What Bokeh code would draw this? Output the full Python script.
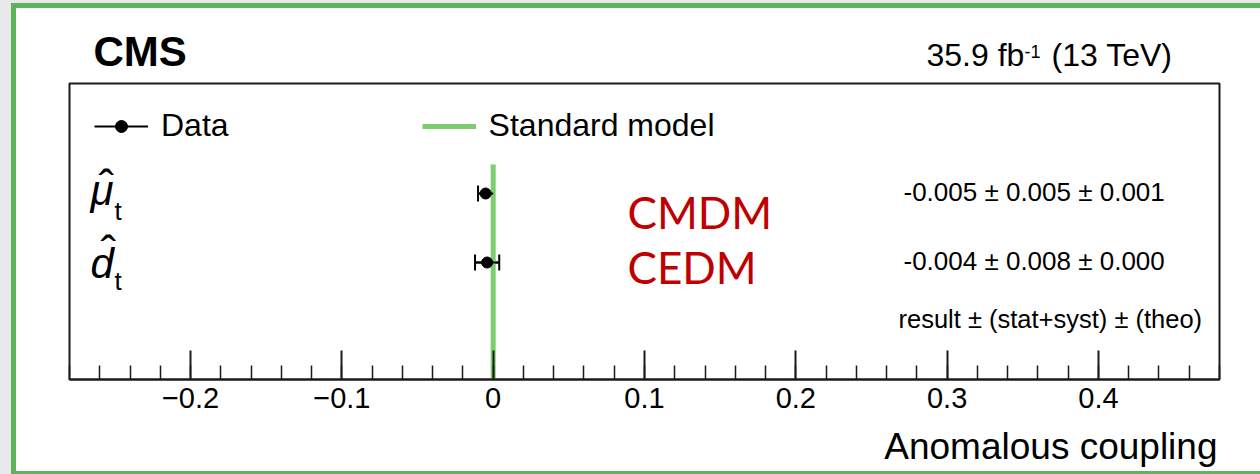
import numpy as np
from bokeh.plotting import figure
from bokeh.layouts import row, column
from bokeh.models import (Range1d, FixedTicker, Whisker, TeeHead, Label, Legend,
                          LegendItem, ColumnDataSource, Div)
from bokeh.core.properties import value
from bokeh.embed import file_html
from bokeh.resources import INLINE

# ---------------- data ----------------
couplings = ["μ", "d"]
coupling_names = ["CMDM", "CEDM"]
central = [-0.005, -0.004]
err_stat_syst = [0.005, 0.008]
err_theo = [0.001, 0.000]
sm_value = 0.0
x_major_ticks = [-0.2, -0.1, 0.0, 0.1, 0.2, 0.3, 0.4]
x_tick_labels = ["−0.2", "−0.1", "0", "0.1", "0.2", "0.3", "0.4"]
x_minor_step = 0.02
x_limits = (-0.28, 0.48)

# ---------------- layout constants ----------------
FONT = "Liberation Sans"
GRAY, GREEN = "#e9e9e9", "#5db55a"
CW = 1244                            # content width (page x 16..1260)
FL, FR, FT, FB = 69, 1219, 83, 379   # main frame edges in page pixels
MAIN_TOP, MAIN_H = 81, 346
HEAD_TOP, HEAD_H = 8, 73
FOOT_TOP, FOOT_H = 427, 44
K = 0.36                             # baseline correction (fraction of font size)
BL, BR = FL - 16, 16 + CW - FR       # side borders shared by all stacked figures


def fix(py, size):
    return py - K * size


def sx(px):
    return px - FL


def sy(py):
    return FB - py


def strip(w, h, color):
    return Div(text="", width=w, height=h, margin=0,
               styles={"background-color": color, "overflow": "hidden"})


def textfig(h):
    f = figure(width=CW, height=h, toolbar_location=None, output_backend="svg",
               x_range=Range1d(0, 1), y_range=Range1d(0, 1),
               min_border_left=BL, min_border_right=BR, min_border_top=0, min_border_bottom=0,
               x_axis_location=None, y_axis_location=None)
    f.outline_line_color = None
    f.background_fill_color = "white"
    f.border_fill_color = "white"
    f.grid.visible = False
    return f


def label(fig, x, y, text, size, **kw):
    args = dict(text_font=FONT, text_font_size=f"{size}px", text_baseline="alphabetic",
                text_color="black")
    args.update(kw)
    fig.add_layout(Label(x=x, y=y, x_units="screen", y_units="screen", text=text, **args))


# ---------------- main plot ----------------
row_py = [193, 262]
row_y = [sy(v) for v in row_py]
sym_dy = [12 - K * 42, 16 - K * 42]
sub_dy = [27 - K * 26, 28 - K * 26]
hat_dy = [9 - K * 46, 6 - K * 46]
hat_dx = [sx(106), sx(108)]

p = figure(width=CW, height=MAIN_H, x_range=Range1d(*x_limits), y_range=Range1d(0, FB - FT),
           output_backend="svg", toolbar_location=None, y_axis_location=None,
           min_border_left=BL, min_border_right=BR,
           min_border_top=FT - MAIN_TOP, min_border_bottom=MAIN_TOP + MAIN_H - FB)
p.grid.visible = False
p.background_fill_color = "white"
p.border_fill_color = "white"
p.outline_line_color = "#1a1a1a"
p.outline_line_width = 2

ax = p.xaxis[0]
minor = [round(v, 2) for v in np.arange(x_limits[0], x_limits[1] + 1e-9, x_minor_step)]
ax.ticker = FixedTicker(ticks=x_major_ticks, minor_ticks=minor)
ax.major_label_overrides = {t: l for t, l in zip(x_major_ticks, x_tick_labels)}
ax.axis_line_color = "#1a1a1a"
ax.axis_line_width = 2
ax.major_tick_in = 29
ax.major_tick_out = 0
ax.major_tick_line_width = 2
ax.major_tick_line_color = "#1a1a1a"
ax.minor_tick_in = 14
ax.minor_tick_out = 0
ax.minor_tick_line_width = 1.5
ax.minor_tick_line_color = "#1a1a1a"
ax.major_label_text_font = FONT
ax.major_label_text_font_size = "29px"
ax.major_label_text_color = "black"
ax.major_label_standoff = 8

lo = [c - e for c, e in zip(central, err_stat_syst)]
hi = [c + e for c, e in zip(central, err_stat_syst)]
val_text = [f"{c:.3f} ± {s:.3f} ± {t:.3f}" for c, s, t in zip(central, err_stat_syst, err_theo)]
src = ColumnDataSource(dict(x=central, y=row_y, lo=lo, hi=hi, sym=couplings,
                            sub=["t"] * len(couplings), hat=["ˆ"] * len(couplings),
                            val=val_text, sym_dy=sym_dy, sub_dy=sub_dy,
                            hat_dx=hat_dx, hat_dy=hat_dy))

sm_src = ColumnDataSource(dict(x=[sm_value], y0=[0], y1=[sy(164)]))
sm_r = p.segment(x0="x", y0="y0", x1="x", y1="y1", source=sm_src,
                 line_color="#7ccd6b", line_width=5)

bar_r = p.segment(x0="lo", y0="y", x1="hi", y1="y", source=src, line_color="black", line_width=2)
p.add_layout(Whisker(source=src, base="y", lower="lo", upper="hi", dimension="width",
                     line_color="black", line_width=2,
                     lower_head=TeeHead(size=16, line_width=2, line_color="black"),
                     upper_head=TeeHead(size=16, line_width=2, line_color="black")))
dot_r = p.scatter("x", "y", source=src, size=11, color="black")

x0 = x_limits[0]
p.text(x=x0, y="y", text="sym", source=src, x_offset=sx(90), y_offset="sym_dy",
       text_font=value(FONT), text_font_style="italic", text_font_size="42px",
       text_baseline="alphabetic", text_color="black")
p.text(x=x0, y="y", text="sub", source=src, x_offset=sx(114), y_offset="sub_dy",
       text_font=value(FONT), text_font_size="26px",
       text_baseline="alphabetic", text_color="black")
p.text(x=x0, y="y", text="hat", source=src, x_offset="hat_dx", y_offset="hat_dy",
       text_font=value(FONT), text_font_size="46px", text_align="center",
       text_baseline="alphabetic", text_color="black")
p.text(x=x0, y="y", text="val", source=src, x_offset=sx(903), y_offset=8 - K * 26,
       text_font=value(FONT), text_font_size="26px",
       text_baseline="alphabetic", text_color="black")

label(p, sx(898), sy(fix(328, 25.5)), "result ± (stat+syst) ± (theo)", 25.5)

for name, py in zip(coupling_names, [227, 282]):
    label(p, sx(627), sy(fix(py, 44)), name, 44, text_font="Lato", text_color="#c00000")

legend = Legend(items=[LegendItem(label="Data", renderers=[bar_r, dot_r]),
                       LegendItem(label="Standard model", renderers=[sm_r])],
                orientation="horizontal", location=(sx(94), sy(128) - 16),
                glyph_width=54, glyph_height=30, label_height=30, label_standoff=13,
                spacing=193, padding=0, margin=0, border_line_alpha=0,
                background_fill_alpha=0, label_text_font=FONT,
                label_text_font_size="32px", label_text_color="black")
p.add_layout(legend)

# ---------------- header (frame aligned with main frame) ----------------
head = textfig(HEAD_H)


def hy(py):
    return HEAD_TOP + HEAD_H - py


label(head, sx(93), hy(fix(66, 42)), "CMS", 42, text_font_style="bold")
label(head, sx(926), hy(fix(66, 32)), "35.9 fb", 32)
label(head, sx(1024), hy(fix(57, 18)), "-1", 18)
label(head, sx(1172), hy(fix(66, 32)), "(13 TeV)", 32, text_align="right")

# ---------------- footer ----------------
foot = textfig(FOOT_H)
label(foot, sx(1217), FOOT_TOP + FOOT_H - fix(459, 37), "Anomalous coupling", 37,
      text_align="right")

# ---------------- slide frame ----------------
content = column(strip(CW, 5, GREEN), head, p, foot, strip(CW, 3, GREEN))
page = row(strip(11, 474, GRAY),
           column(strip(1249, 3, GRAY), row(strip(5, 471, GREEN), content)))

open("out.html", "w").write(file_html(page, INLINE))
